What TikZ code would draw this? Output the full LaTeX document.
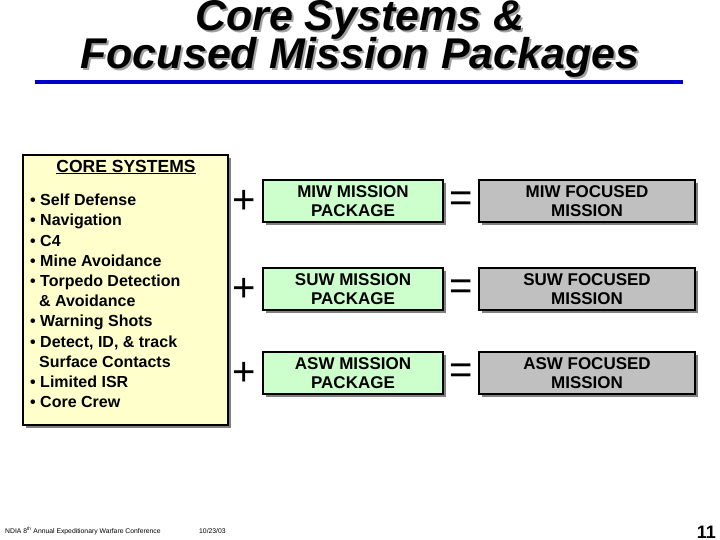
\documentclass[tikz,border=0pt]{standalone}
\usepackage{fontspec}
\setmainfont{Liberation Sans}
\usetikzlibrary{positioning}
\definecolor{coreyellow}{HTML}{FFFFCC}
\definecolor{pkggreen}{HTML}{CCFFCC}
\definecolor{misgray}{HTML}{C0C0C0}
\definecolor{shadowgray}{HTML}{808080}
\definecolor{titleshadow}{HTML}{A0A0A0}
\definecolor{lineblue}{HTML}{0000CC}
\tikzset{
  pkgbox/.style={draw=black, line width=1.2pt, fill=pkggreen, minimum width=180pt, minimum height=42pt, align=center, font=\fontsize{17}{17}\selectfont\bfseries, inner sep=0pt},
  misbox/.style={draw=black, line width=1.2pt, fill=misgray, minimum width=216pt, minimum height=42pt, align=center, font=\fontsize{17}{17}\selectfont\bfseries, inner sep=0pt},
  opsign/.style={font=\fontsize{40}{40}\selectfont, inner sep=0pt},
  titletext/.style={font=\fontsize{43}{43}\selectfont\bfseries\itshape, inner sep=0pt, anchor=base}
}
\begin{document}
\begin{tikzpicture}[x=1pt,y=-1pt]
\useasboundingbox (0,0) rectangle (720,540);
\fill[white] (0,0) rectangle (720,540);
% title
\node[titletext, text=titleshadow] at (362,33) {Core Systems \&};
\node[titletext] (t1) at (360,31) {Core Systems \&};
\node[titletext, text=titleshadow] at (362,71) {Focused Mission Packages};
\node[titletext] (t2) at (360,69) {Focused Mission Packages};
\draw[lineblue, line width=3.5pt] (35,82) -- (683,82);
% core systems box
\fill[shadowgray] (26,158) rectangle (231,428);
\node[draw=black, line width=1.2pt, fill=coreyellow, minimum width=205pt, minimum height=270pt, inner sep=0pt] (core) at (125.5,290) {};
\node[font=\fontsize{17.5}{17.5}\selectfont\bfseries, inner sep=0pt] (coretitle) at (126,167) {\underline{CORE SYSTEMS}};
\node[anchor=north west, align=left, font=\fontsize{16}{20.2}\selectfont\bfseries, inner sep=0pt] (corelist) at (30,194) {%
• Self Defense\\
• Navigation\\
• C4\\
• Mine Avoidance\\
• Torpedo Detection\\
\ \ \& Avoidance\\
• Warning Shots\\
• Detect, ID, \& track\\
\ \ Surface Contacts\\
• Limited ISR\\
• Core Crew};
% rows
\foreach \y/\a/\n in {201/MIW/1, 289/SUW/2, 373/ASW/3}{
  \fill[shadowgray] (266,\y-18) rectangle (446,\y+24);
  \node[pkgbox] (p\n) at (353,\y) {\a\ MISSION\\[2pt]PACKAGE};
  \fill[shadowgray] (482,\y-18) rectangle (698,\y+24);
  \node[misbox] (m\n) at (587,\y) {\a\ FOCUSED\\[2pt]MISSION};
  \node[opsign] (plus\n) at (244,\y+1) {+};
  \node[opsign] (eq\n) at (461,\y+1) {=};
}
% footer
\node[anchor=west, font=\fontsize{6.8}{6.8}\selectfont, inner sep=0pt] (foot) at (5,531) {NDIA 8\textsuperscript{th} Annual Expeditionary Warfare Conference};
\node[anchor=west, font=\fontsize{6.8}{6.8}\selectfont, inner sep=0pt] (date) at (199,531) {10/23/03};
\node[anchor=base east, font=\fontsize{18}{18}\selectfont\bfseries, inner sep=0pt] (page) at (716,538) {11};
\end{tikzpicture}
\end{document}
